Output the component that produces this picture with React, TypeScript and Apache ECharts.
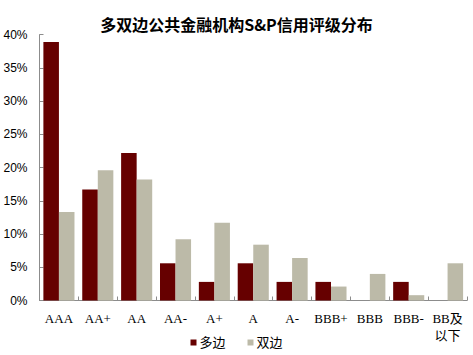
import React, { useEffect, useRef } from "react";
import * as echarts from "echarts";

const categories = ["AAA", "AA+", "AA", "AA-", "A+", "A", "A-", "BBB+", "BBB", "BBB-", "BB及\n以下"];
const multilateral = [38.9, 16.7, 22.2, 5.6, 2.8, 5.6, 2.8, 2.8, 0, 2.8, 0];
const bilateral = [13.3, 19.6, 18.2, 9.2, 11.7, 8.4, 6.4, 2.1, 4.0, 0.8, 5.6];
const seriesNames = ["多边", "双边"];
const titleText = "多双边公共金融机构S&P信用评级分布";

export default function App() {
  const ref = useRef<HTMLDivElement>(null);
  useEffect(() => {
    if (!ref.current) return;
    const chart = echarts.init(ref.current, undefined, { renderer: "svg" });
    const serif = "'Liberation Serif', 'Noto Sans CJK SC', serif";
    chart.setOption({
      animation: false,
      backgroundColor: "#ffffff",
      title: {
        text: titleText,
        left: "center",
        top: 11,
        textStyle: {
          fontSize: 16,
          fontWeight: "bold",
          color: "#000",
          fontFamily: "'Noto Sans CJK SC', serif",
        },
      },
      legend: {
        data: seriesNames,
        left: "center",
        top: 331,
        itemWidth: 6,
        itemHeight: 6,
        itemGap: 22,
        icon: "rect",
        textStyle: { fontSize: 13, color: "#000", fontFamily: serif, padding: [0, 0, 0, -2] },
      },
      grid: { left: 39.5, right: 6, top: 34.7, bottom: 54.5, containLabel: false },
      xAxis: {
        type: "category",
        data: categories,
        axisLine: { lineStyle: { color: "#8c8c8c", width: 1 } },
        axisTick: { show: true, inside: true, length: 4, lineStyle: { color: "#8c8c8c" } },
        axisLabel: {
          interval: 0,
          margin: 9,
          fontSize: 13,
          color: "#000",
          fontFamily: serif,
          lineHeight: 17,
        },
      },
      yAxis: {
        type: "value",
        min: 0,
        max: 40,
        interval: 5,
        splitLine: { show: false },
        axisLine: { show: true, lineStyle: { color: "#8c8c8c", width: 1 } },
        axisTick: { show: true, inside: true, length: 4, lineStyle: { color: "#8c8c8c" } },
        axisLabel: {
          formatter: "{value}%",
          margin: 12,
          fontSize: 12,
          color: "#000",
          fontFamily: "'Liberation Sans', Arial, sans-serif",
        },
      },
      series: [
        {
          name: seriesNames[0],
          type: "bar",
          data: multilateral,
          barGap: "0%",
          barCategoryGap: "20%",
          itemStyle: { color: "#660000" },
        },
        {
          name: seriesNames[1],
          type: "bar",
          data: bilateral,
          barGap: "0%",
          barCategoryGap: "20%",
          itemStyle: { color: "#bcbaa8" },
        },
      ],
    });
    return () => chart.dispose();
  }, []);
  return <div ref={ref} style={{ width: 473, height: 355, position: "absolute", left: 0, top: 0 }} />;
}
